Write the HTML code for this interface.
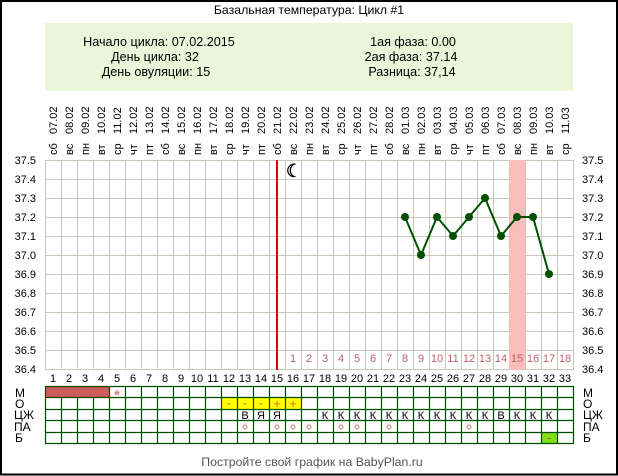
<!DOCTYPE html>
<html><head><meta charset="utf-8"><style>
html,body{margin:0;padding:0;background:#fff;}
#w{position:relative;width:618px;height:476px;overflow:hidden;}
svg{position:absolute;left:0;top:0;}
text{font-family:"Liberation Sans","DejaVu Sans",sans-serif;}
</style></head><body><div id="w">
<svg width="618" height="476" viewBox="0 0 618 476" xmlns="http://www.w3.org/2000/svg">
<rect x="0" y="0" width="618" height="476" fill="#fff"/>
<rect x="1" y="1" width="616" height="473.5" fill="none" stroke="#000" stroke-width="2"/>
<text x="309" y="14" font-size="12.3" text-anchor="middle" fill="#000">Базальная температура: Цикл #1</text>
<rect x="45" y="23" width="528" height="68" fill="#eaf5da"/>
<g font-size="12.6" fill="#000" text-anchor="middle">
<text x="159" y="46">Начало цикла: 07.02.2015</text>
<text x="155" y="61">День цикла: 32</text>
<text x="156" y="76">День овуляции: 15</text>
<text x="413" y="46">1ая фаза: 0.00</text>
<text x="411" y="61">2ая фаза: 37.14</text>
<text x="412" y="76">Разница: 37,14</text>
</g>
<g font-size="11" fill="#000">
<g transform="translate(57,155) rotate(-90)"><text x="0">сб</text><text x="21">07.02</text></g>
<g transform="translate(73,155) rotate(-90)"><text x="0">вс</text><text x="21">08.02</text></g>
<g transform="translate(89,155) rotate(-90)"><text x="0">пн</text><text x="21">09.02</text></g>
<g transform="translate(105,155) rotate(-90)"><text x="0">вт</text><text x="21">10.02</text></g>
<g transform="translate(121,155) rotate(-90)"><text x="0">ср</text><text x="21">11.02</text></g>
<g transform="translate(137,155) rotate(-90)"><text x="0">чт</text><text x="21">12.02</text></g>
<g transform="translate(153,155) rotate(-90)"><text x="0">пт</text><text x="21">13.02</text></g>
<g transform="translate(169,155) rotate(-90)"><text x="0">сб</text><text x="21">14.02</text></g>
<g transform="translate(185,155) rotate(-90)"><text x="0">вс</text><text x="21">15.02</text></g>
<g transform="translate(201,155) rotate(-90)"><text x="0">пн</text><text x="21">16.02</text></g>
<g transform="translate(217,155) rotate(-90)"><text x="0">вт</text><text x="21">17.02</text></g>
<g transform="translate(233,155) rotate(-90)"><text x="0">ср</text><text x="21">18.02</text></g>
<g transform="translate(249,155) rotate(-90)"><text x="0">чт</text><text x="21">19.02</text></g>
<g transform="translate(265,155) rotate(-90)"><text x="0">пт</text><text x="21">20.02</text></g>
<g transform="translate(281,155) rotate(-90)"><text x="0">сб</text><text x="21">21.02</text></g>
<g transform="translate(297,155) rotate(-90)"><text x="0">вс</text><text x="21">22.02</text></g>
<g transform="translate(313,155) rotate(-90)"><text x="0">пн</text><text x="21">23.02</text></g>
<g transform="translate(329,155) rotate(-90)"><text x="0">вт</text><text x="21">24.02</text></g>
<g transform="translate(345,155) rotate(-90)"><text x="0">ср</text><text x="21">25.02</text></g>
<g transform="translate(361,155) rotate(-90)"><text x="0">чт</text><text x="21">26.02</text></g>
<g transform="translate(377,155) rotate(-90)"><text x="0">пт</text><text x="21">27.02</text></g>
<g transform="translate(393,155) rotate(-90)"><text x="0">сб</text><text x="21">28.02</text></g>
<g transform="translate(409,155) rotate(-90)"><text x="0">вс</text><text x="21">01.03</text></g>
<g transform="translate(425,155) rotate(-90)"><text x="0">пн</text><text x="21">02.03</text></g>
<g transform="translate(441,155) rotate(-90)"><text x="0">вт</text><text x="21">03.03</text></g>
<g transform="translate(457,155) rotate(-90)"><text x="0">ср</text><text x="21">04.03</text></g>
<g transform="translate(473,155) rotate(-90)"><text x="0">чт</text><text x="21">05.03</text></g>
<g transform="translate(489,155) rotate(-90)"><text x="0">пт</text><text x="21">06.03</text></g>
<g transform="translate(505,155) rotate(-90)"><text x="0">сб</text><text x="21">07.03</text></g>
<g transform="translate(521,155) rotate(-90)"><text x="0">вс</text><text x="21">08.03</text></g>
<g transform="translate(537,155) rotate(-90)"><text x="0">пн</text><text x="21">09.03</text></g>
<g transform="translate(553,155) rotate(-90)"><text x="0">вт</text><text x="21">10.03</text></g>
<g transform="translate(569,155) rotate(-90)"><text x="0">ср</text><text x="21">11.03</text></g>
</g>
<!-- grid -->
<path d="M45.5 160V369M61.5 160V369M77.5 160V369M93.5 160V369M109.5 160V369M125.5 160V369M141.5 160V369M157.5 160V369M173.5 160V369M189.5 160V369M205.5 160V369M221.5 160V369M237.5 160V369M253.5 160V369M269.5 160V369M285.5 160V369M301.5 160V369M317.5 160V369M333.5 160V369M349.5 160V369M365.5 160V369M381.5 160V369M397.5 160V369M413.5 160V369M429.5 160V369M445.5 160V369M461.5 160V369M477.5 160V369M493.5 160V369M509.5 160V369M525.5 160V369M541.5 160V369M557.5 160V369M573.5 160V369M45 160.5H574M45 179.5H574M45 198.5H574M45 217.5H574M45 236.5H574M45 255.5H574M45 274.5H574M45 293.5H574M45 312.5H574M45 331.5H574M45 350.5H574M45 369.5H574" stroke="#c8c8bc" stroke-width="1" fill="none"/>
<rect x="509" y="160" width="16" height="210" fill="#fbbcbc"/>
<line x1="277" y1="160" x2="277" y2="370" stroke="#e00000" stroke-width="2"/>
<text x="294" y="177" font-size="18" text-anchor="middle" fill="#000" stroke="#000" stroke-width="0.6" font-family="DejaVu Sans, sans-serif">☾</text>
<g font-size="11" fill="#000">
<g text-anchor="end">
<text x="36" y="164">37.5</text><text x="36" y="183">37.4</text><text x="36" y="202">37.3</text><text x="36" y="221">37.2</text><text x="36" y="240">37.1</text><text x="36" y="259">37.0</text><text x="36" y="278">36.9</text><text x="36" y="297">36.8</text><text x="36" y="316">36.7</text><text x="36" y="335">36.6</text><text x="36" y="354">36.5</text><text x="36" y="373">36.4</text>
</g>
<text x="582" y="164">37.5</text><text x="582" y="183">37.4</text><text x="582" y="202">37.3</text><text x="582" y="221">37.2</text><text x="582" y="240">37.1</text><text x="582" y="259">37.0</text><text x="582" y="278">36.9</text><text x="582" y="297">36.8</text><text x="582" y="316">36.7</text><text x="582" y="335">36.6</text><text x="582" y="354">36.5</text><text x="582" y="373">36.4</text>
</g>
<g font-size="11" fill="#c0606a" text-anchor="middle">
<text x="293" y="362">1</text><text x="309" y="362">2</text><text x="325" y="362">3</text><text x="341" y="362">4</text><text x="357" y="362">5</text><text x="373" y="362">6</text><text x="389" y="362">7</text><text x="405" y="362">8</text><text x="421" y="362">9</text><text x="437" y="362">10</text><text x="453" y="362">11</text><text x="469" y="362">12</text><text x="485" y="362">13</text><text x="501" y="362">14</text><text x="517" y="362">15</text><text x="533" y="362">16</text><text x="549" y="362">17</text><text x="565" y="362">18</text>
</g>
<polyline points="405,217 421,255 437,217 453,236 469,217 485,198 501,236 517,217 533,217 549,274" fill="none" stroke="#005000" stroke-width="2"/>
<g fill="#005000">
<circle cx="405" cy="217" r="4"/><circle cx="421" cy="255" r="4"/><circle cx="437" cy="217" r="4"/><circle cx="453" cy="236" r="4"/><circle cx="469" cy="217" r="4"/><circle cx="485" cy="198" r="4"/><circle cx="501" cy="236" r="4"/><circle cx="517" cy="217" r="4"/><circle cx="533" cy="217" r="4"/><circle cx="549" cy="274" r="4"/>
</g>
<g font-size="11" fill="#000" text-anchor="middle">
<text x="53" y="382">1</text><text x="69" y="382">2</text><text x="85" y="382">3</text><text x="101" y="382">4</text><text x="117" y="382">5</text><text x="133" y="382">6</text><text x="149" y="382">7</text><text x="165" y="382">8</text><text x="181" y="382">9</text><text x="197" y="382">10</text><text x="213" y="382">11</text><text x="229" y="382">12</text><text x="245" y="382">13</text><text x="261" y="382">14</text><text x="277" y="382">15</text><text x="293" y="382">16</text><text x="309" y="382">17</text><text x="325" y="382">18</text><text x="341" y="382">19</text><text x="357" y="382">20</text><text x="373" y="382">21</text><text x="389" y="382">22</text><text x="405" y="382">23</text><text x="421" y="382">24</text><text x="437" y="382">25</text><text x="453" y="382">26</text><text x="469" y="382">27</text><text x="485" y="382">28</text><text x="501" y="382">29</text><text x="517" y="382">30</text><text x="533" y="382">31</text><text x="549" y="382">32</text><text x="565" y="382">33</text>
</g>
<!-- bottom table fills -->
<rect x="45" y="386" width="64" height="12" fill="#cd5c5c"/>
<rect x="221" y="398" width="80" height="11" fill="#ffff00"/>
<rect x="541" y="432" width="16" height="12" fill="#80e010"/>
<path d="M45.5 386V444M61.5 398V444M77.5 398V444M93.5 398V444M109.5 386V444M125.5 386V444M141.5 386V444M157.5 386V444M173.5 386V444M189.5 386V444M205.5 386V444M221.5 386V444M237.5 386V444M253.5 386V444M269.5 386V444M285.5 386V444M301.5 386V444M317.5 386V444M333.5 386V444M349.5 386V444M365.5 386V444M381.5 386V444M397.5 386V444M413.5 386V444M429.5 386V444M445.5 386V444M461.5 386V444M477.5 386V444M493.5 386V444M509.5 386V444M525.5 386V444M541.5 386V444M557.5 386V444M573.5 386V444M45 386.5H574M45 397.5H574M45 409.5H574M45 420.5H574M45 432.5H574M45 443.5H574" stroke="#004d00" stroke-width="1.2" fill="none"/>
<text x="117" y="400" font-size="15" font-weight="bold" text-anchor="middle" fill="#d88080">*</text>
<g font-size="12" fill="#e8902a" text-anchor="middle" font-weight="bold">
<text x="229" y="407">-</text><text x="245" y="407">-</text><text x="261" y="407">-</text><text x="277" y="408">+</text><text x="293" y="408">+</text>
</g>
<g font-size="11" fill="#000" text-anchor="middle">
<text x="245" y="419">В</text><text x="261" y="419">Я</text><text x="277" y="419">Я</text>
<text x="325" y="419">К</text><text x="341" y="419">К</text><text x="357" y="419">К</text><text x="373" y="419">К</text><text x="389" y="419">К</text><text x="405" y="419">К</text><text x="421" y="419">К</text><text x="437" y="419">К</text><text x="453" y="419">К</text><text x="469" y="419">К</text><text x="485" y="419">К</text><text x="501" y="419">В</text><text x="517" y="419">К</text><text x="533" y="419">К</text><text x="549" y="419">К</text>
</g>
<g fill="none" stroke="#d07878" stroke-width="1">
<circle cx="245" cy="427" r="2"/><circle cx="277" cy="427" r="2"/><circle cx="293" cy="427" r="2"/><circle cx="309" cy="427" r="2"/><circle cx="341" cy="427" r="2"/><circle cx="357" cy="427" r="2"/><circle cx="389" cy="427" r="2"/><circle cx="469" cy="427" r="2"/>
</g>
<line x1="547" y1="438.5" x2="551" y2="438.5" stroke="#c06060" stroke-width="1"/>
<g font-size="12" fill="#000">
<text x="15" y="397">М</text><text x="15" y="408">О</text><text x="14" y="419">ЦЖ</text><text x="14" y="431">ПА</text><text x="15" y="442">Б</text>
<text x="583" y="397">М</text><text x="583" y="408">О</text><text x="583" y="419">ЦЖ</text><text x="583" y="431">ПА</text><text x="583" y="442">Б</text>
</g>
<text x="312" y="466" font-size="12.3" text-anchor="middle" fill="#555">Постройте свой график на BabyPlan.ru</text>
</svg>
</div></body></html>
